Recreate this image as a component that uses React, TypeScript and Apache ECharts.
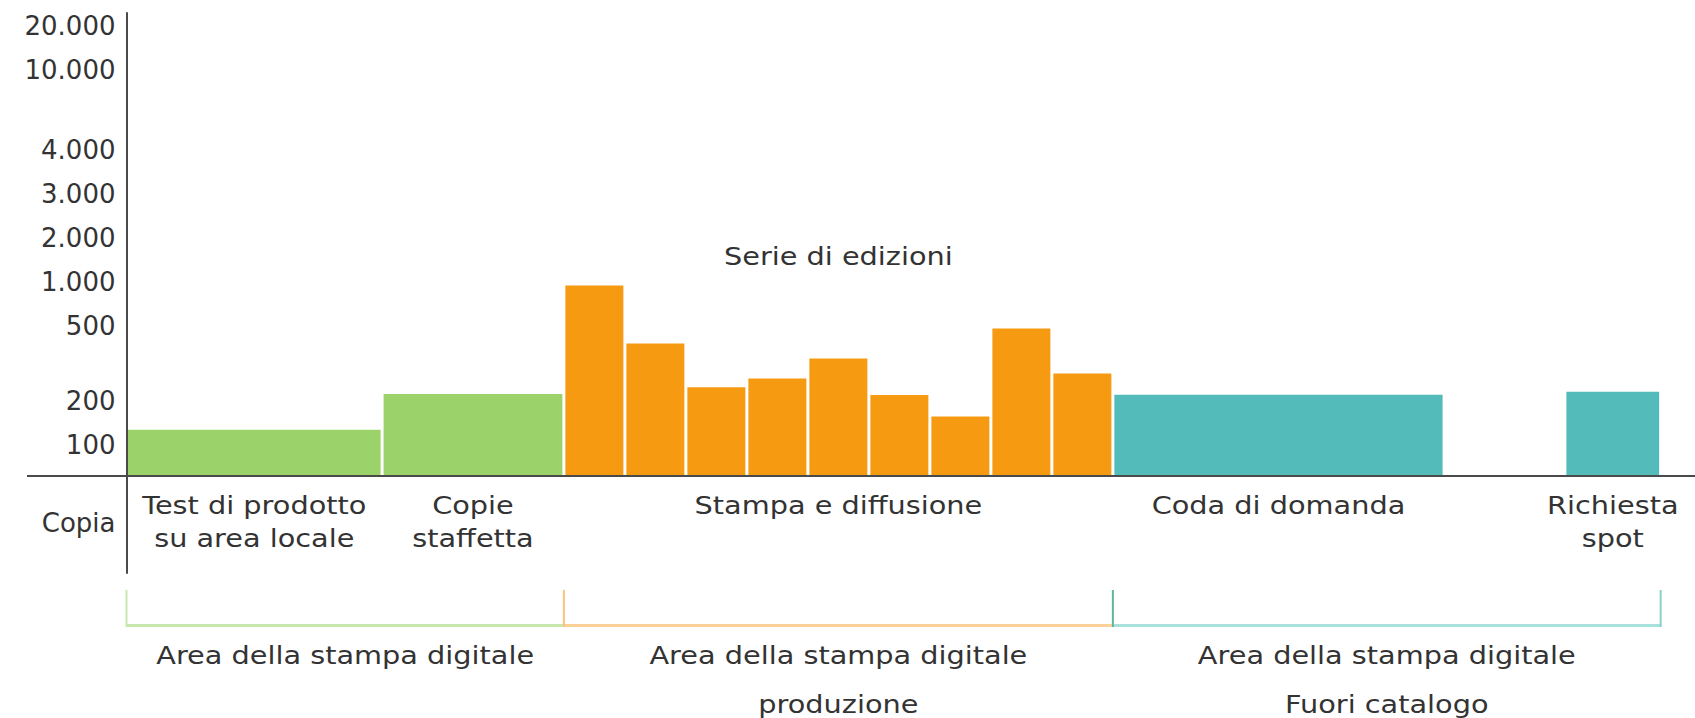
import React, { useEffect, useRef } from "react";
import * as echarts from "echarts";

// ---- Data ----
// Y axis tick values (copies) and their place on the chart's non-linear (piecewise) axis
const yTickValues = [100, 200, 500, 1000, 2000, 3000, 4000, 10000, 20000];
const yTickSteps = [0.7, 1.7, 3.4, 4.4, 5.4, 6.4, 7.4, 9.2, 10.2];
const yAxisCaption = "Copia";

// Bars: horizontal extent (in edition-slot units), copies, zone
const barStart = [0, 4.19, 7.17, 8.17, 9.17, 10.17, 11.17, 12.17, 13.17, 14.17, 15.17, 16.17, 23.58];
const barEnd = [4.19, 7.17, 8.17, 9.17, 10.17, 11.17, 12.17, 13.17, 14.17, 15.17, 16.17, 21.6, 25.15];
const barCopies = [135, 228, 960, 430, 255, 290, 370, 224, 165, 490, 310, 225, 237];
const barZone = [0, 0, 1, 1, 1, 1, 1, 1, 1, 1, 1, 2, 2];

// Categories under the axis
const categoryNames = [
  "Test di prodotto\nsu area locale",
  "Copie\nstaffetta",
  "Stampa e diffusione",
  "Coda di domanda",
  "Richiesta\nspot",
];
const categoryStart = [0, 4.19, 7.17, 16.17, 23.58];
const categoryEnd = [4.19, 7.17, 16.17, 21.6, 25.15];

// Zones (brackets)
const zoneNames = [
  "Area della stampa digitale",
  "Area della stampa digitale\nproduzione",
  "Area della stampa digitale\nFuori catalogo",
];
const zoneStart = [0, 7.17, 16.17];
const zoneEnd = [7.17, 16.17, 25.15];

const seriesTitle = "Serie di edizioni";
const seriesTitleZone = 1;

// ---- Styles / layout ----
const FONT = "DejaVu Sans";
const FS = 25;
const SX = 1.15;
const TEXT = "#333333";
const AXIS = "#4a4a4a";
const zoneColors = ["#9bd36a", "#f69a12", "#53bbb9"];
const zoneLineColors = ["#c6e8ae", "#fcd096", "#a8e0dc"];
const zoneTickColors = ["#c6e8ae", "#f7c47c", "#5db99c"];
const zoneEndTickColor = "#86d3cd";
const COPIA_POS = -1.07;
const AXIS_LEFT_OVERHANG = 99.5;

function toPos(v: number): number {
  const xs = [0, ...yTickValues];
  const ys = [0, ...yTickSteps];
  for (let i = 1; i < xs.length; i++) {
    if (v <= xs[i]) {
      const t = (v - xs[i - 1]) / (xs[i] - xs[i - 1]);
      return ys[i - 1] + t * (ys[i] - ys[i - 1]);
    }
  }
  const n = xs.length - 1;
  return ys[n] + ((v - xs[n]) / (xs[n] - xs[n - 1])) * (ys[n] - ys[n - 1]);
}

function fmt(v: number): string {
  return String(v).replace(/\B(?=(\d{3})+(?!\d))/g, ".");
}

export default function App() {
  const ref = useRef<HTMLDivElement>(null);

  useEffect(() => {
    if (!ref.current) return;
    const chart = echarts.init(ref.current, null, { renderer: "svg" });

    const barData = barCopies.map((c, i) => [barStart[i], barEnd[i], toPos(c), barZone[i], c]);
    const catData = categoryNames.map((_, i) => [categoryStart[i], categoryEnd[i], 0]);
    const zoneData = zoneNames.map((_, i) => [zoneStart[i], zoneEnd[i], 0]);

    const textStyle = (text: string, lh: number) => ({
      text,
      fontFamily: FONT,
      fontSize: FS,
      fill: TEXT,
      textAlign: "center",
      textVerticalAlign: "top",
      lineHeight: lh,
    });

    chart.setOption({
      animation: false,
      backgroundColor: "#ffffff",
      grid: { left: 126.5, right: 0, top: 13, bottom: 145, containLabel: false, outerBoundsMode: "none" },
      xAxis: {
        type: "value",
        min: 0,
        max: 25.713,
        axisLine: { show: true, onZero: true, lineStyle: { color: AXIS, width: 2 } },
        axisTick: { show: false },
        axisLabel: { show: false },
        splitLine: { show: false },
      },
      yAxis: {
        type: "value",
        min: -2.2,
        max: 10.5,
        axisLine: { show: true, onZero: false, lineStyle: { color: AXIS, width: 2 } },
        axisTick: { show: false },
        splitLine: { show: false },
        axisLabel: {
          customValues: [...yTickSteps, COPIA_POS],
          formatter: (v: number) => {
            if (Math.abs(v - COPIA_POS) < 1e-6) return yAxisCaption;
            const i = yTickSteps.findIndex((s) => Math.abs(s - v) < 1e-6);
            return i >= 0 ? fmt(yTickValues[i]) : "";
          },
          fontFamily: FONT,
          fontSize: 26,
          color: TEXT,
          margin: 11,
        },
      },
      series: [
        {
          type: "custom",
          name: "axisExtension",
          clip: false,
          silent: true,
          data: [[0, 0]],
          renderItem: (params: any, api: any) => {
            const o = api.coord([0, 0]);
            return {
              type: "line",
              shape: { x1: o[0] - AXIS_LEFT_OVERHANG, y1: o[1], x2: o[0], y2: o[1] },
              style: { stroke: AXIS, lineWidth: 2 },
            };
          },
        },
        {
          type: "custom",
          name: "bars",
          clip: false,
          data: barData,
          renderItem: (params: any, api: any) => {
            const p0 = api.coord([api.value(0), api.value(2)]);
            const p1 = api.coord([api.value(1), 0]);
            return {
              type: "rect",
              shape: { x: p0[0] + 1.5, y: p0[1], width: p1[0] - p0[0] - 3, height: p1[1] - p0[1] - 1 },
              style: { fill: zoneColors[api.value(3)] },
            };
          },
        },
        {
          type: "custom",
          name: "categories",
          clip: false,
          silent: true,
          data: catData,
          renderItem: (params: any, api: any) => {
            const a = api.coord([api.value(0), 0]);
            const b = api.coord([api.value(1), 0]);
            return {
              type: "text",
              x: (a[0] + b[0]) / 2,
              y: a[1] + 12.5,
              scaleX: SX,
              style: textStyle(categoryNames[params.dataIndex], 33),
            };
          },
        },
        {
          type: "custom",
          name: "zones",
          clip: false,
          silent: true,
          data: zoneData,
          renderItem: (params: any, api: any) => {
            const i = params.dataIndex;
            const a = api.coord([api.value(0), 0]);
            const b = api.coord([api.value(1), 0]);
            const base = a[1];
            const children: any[] = [
              {
                type: "line",
                shape: { x1: a[0], y1: base + 149.5, x2: b[0], y2: base + 149.5 },
                style: { stroke: zoneLineColors[i], lineWidth: 3 },
              },
              {
                type: "line",
                shape: { x1: a[0], y1: base + 114, x2: a[0], y2: base + 151 },
                style: { stroke: zoneTickColors[i], lineWidth: 2 },
              },
              {
                type: "text",
                x: (a[0] + b[0]) / 2,
                y: base + 154.5,
                scaleX: SX,
                style: textStyle(zoneNames[i], 49),
              },
            ];
            if (i === zoneNames.length - 1) {
              children.push({
                type: "line",
                shape: { x1: b[0], y1: base + 114, x2: b[0], y2: base + 151 },
                style: { stroke: zoneEndTickColor, lineWidth: 2 },
              });
            }
            return { type: "group", children };
          },
        },
        {
          type: "custom",
          name: "title",
          clip: false,
          silent: true,
          data: [[zoneStart[seriesTitleZone], zoneEnd[seriesTitleZone], 0]],
          renderItem: (params: any, api: any) => {
            const a = api.coord([api.value(0), 0]);
            const b = api.coord([api.value(1), 0]);
            return {
              type: "text",
              x: (a[0] + b[0]) / 2,
              y: a[1] - 220 - 16.5,
              scaleX: SX,
              style: textStyle(seriesTitle, 33),
            };
          },
        },
      ],
    });

    return () => chart.dispose();
  }, []);

  return (
    <div
      ref={ref}
      style={{ position: "absolute", left: 0, top: 0, width: 1695, height: 718 }}
    />
  );
}
